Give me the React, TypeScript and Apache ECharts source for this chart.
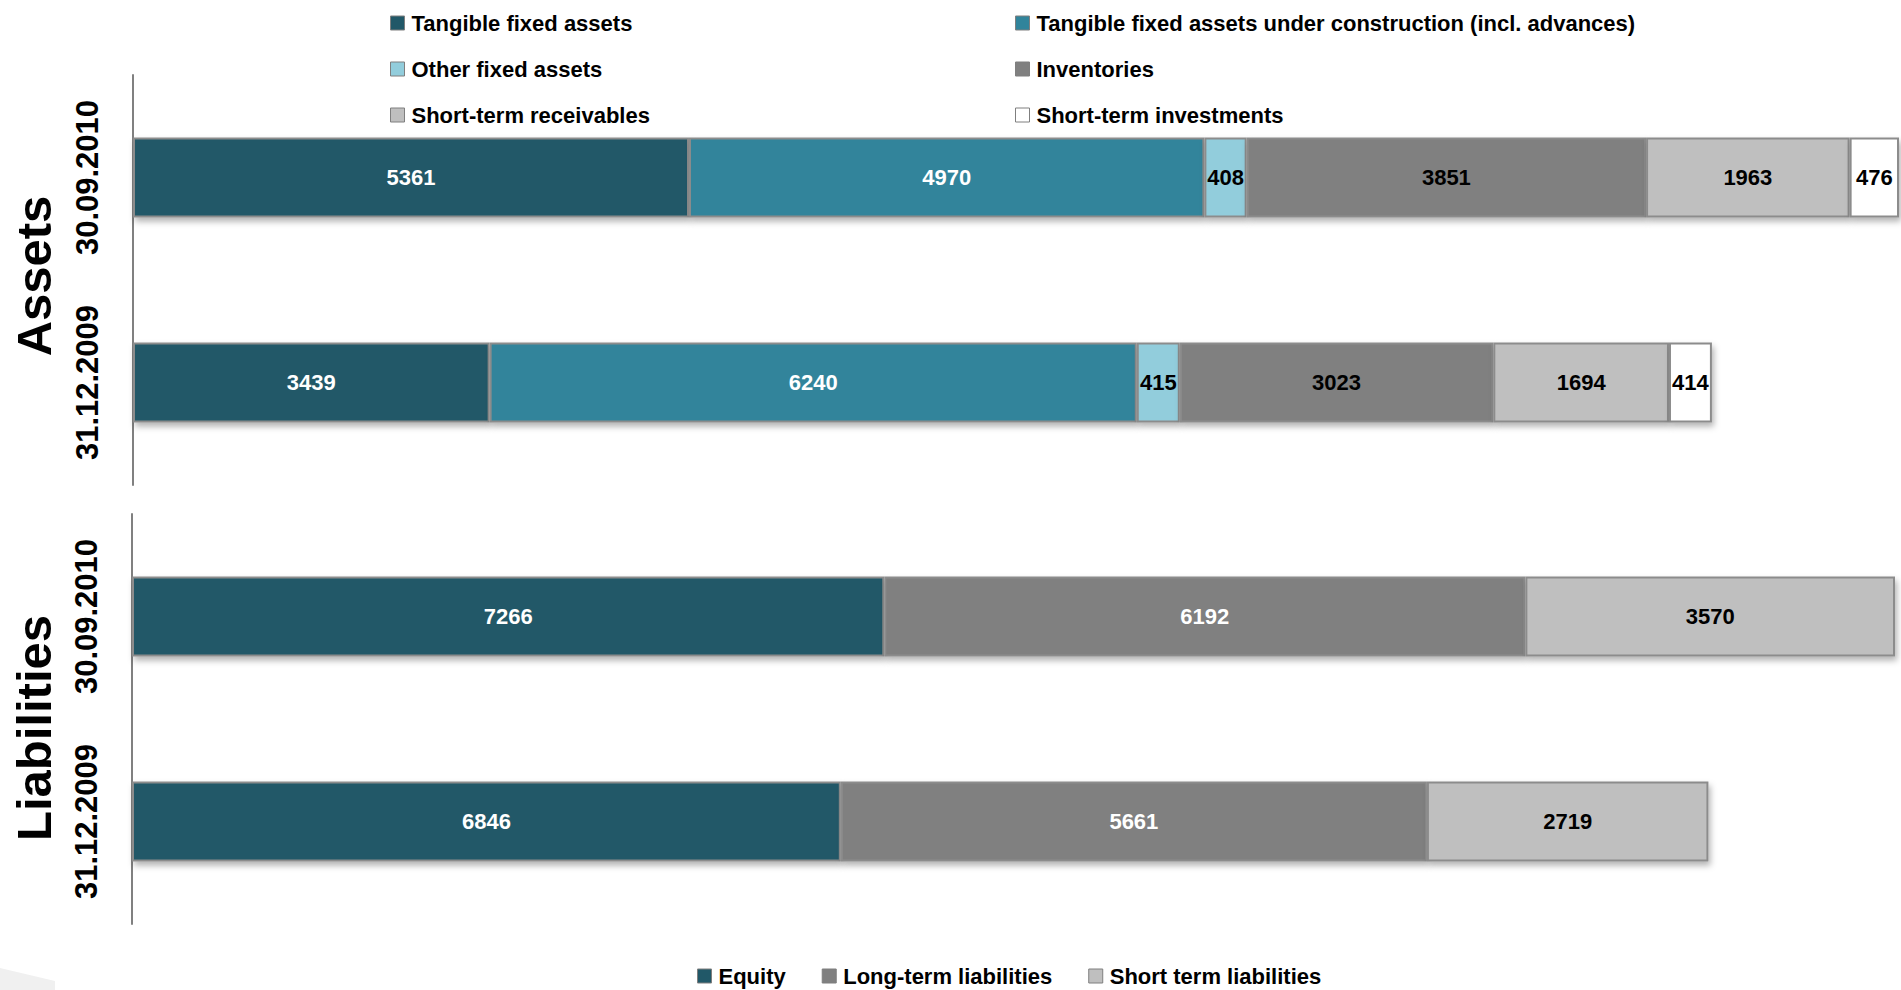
import React, { useEffect, useRef } from "react";
import * as echarts from "echarts";

const categories = ["31.12.2009", "30.09.2010"];
const assetNames = [
  "Tangible fixed assets",
  "Tangible fixed assets under construction (incl. advances)",
  "Other fixed assets",
  "Inventories",
  "Short-term receivables",
  "Short-term investments",
];
const tangibleFixed = [3439, 5361];
const underConstruction = [6240, 4970];
const otherFixed = [415, 408];
const inventories = [3023, 3851];
const receivables = [1694, 1963];
const investments = [414, 476];

const liabilityNames = ["Equity", "Long-term liabilities", "Short term liabilities"];
const equity = [6846, 7266];
const longTerm = [5661, 6192];
const shortTerm = [2719, 3570];

const assetColors = ["#215868", "#31849b", "#92cddc", "#808080", "#bfbfbf", "#ffffff"];
const assetLabelColors = ["#ffffff", "#ffffff", "#000000", "#000000", "#000000", "#000000"];
const liabilityColors = ["#215868", "#808080", "#bfbfbf"];
const liabilityLabelColors = ["#ffffff", "#ffffff", "#000000"];

const FONT = "'Liberation Sans', Arial, sans-serif";

export default function App() {
  const ref = useRef<HTMLDivElement>(null);
  useEffect(() => {
    if (!ref.current) return;
    const chart = echarts.init(ref.current, null, { renderer: "svg" });
    const assetData = [tangibleFixed, underConstruction, otherFixed, inventories, receivables, investments];
    const liabData = [equity, longTerm, shortTerm];
    const barCommon = (color: string, labelColor: string) => ({
      type: "bar",
      barWidth: 80,
      itemStyle: {
        color,
        borderColor: "#8c8c8c",
        borderWidth: 2,
        shadowBlur: 6,
        shadowOffsetX: 2,
        shadowOffsetY: 4,
        shadowColor: "rgba(0,0,0,0.3)",
      },
      label: {
        show: true,
        position: "inside",
        color: labelColor,
        fontFamily: FONT,
        fontWeight: "bold",
        fontSize: 22,
      },
    });
    const series: any[] = [];
    assetNames.forEach((name, i) => {
      series.push({
        ...barCommon(assetColors[i], assetLabelColors[i]),
        name,
        stack: "assets",
        xAxisIndex: 0,
        yAxisIndex: 0,
        data: assetData[i],
      });
    });
    liabilityNames.forEach((name, i) => {
      series.push({
        ...barCommon(liabilityColors[i], liabilityLabelColors[i]),
        name,
        stack: "liab",
        xAxisIndex: 1,
        yAxisIndex: 1,
        data: liabData[i],
      });
    });
    const legendCommon = {
      icon: "rect",
      itemWidth: 14,
      itemHeight: 14,
      itemStyle: { borderColor: "#7f7f7f", borderWidth: 1, shadowBlur: 0, shadowOffsetX: 0, shadowOffsetY: 0 },
      textStyle: { fontFamily: FONT, fontWeight: "bold", fontSize: 22, color: "#000", padding: [0, 0, 0, 2] },
      padding: 0,
      selectedMode: false,
    };
    const yAxisCommon = {
      type: "category",
      data: categories,
      axisLine: { lineStyle: { color: "#808080", width: 2 } },
      axisTick: { show: false },
      axisLabel: {
        rotate: 90,
        margin: 30,
        color: "#000",
        fontFamily: FONT,
        fontWeight: "bold",
        fontSize: 31,
      },
    };
    chart.setOption({
      animation: false,
      backgroundColor: "#ffffff",
      grid: [
        { left: 133, top: 75, width: 1766, height: 410 },
        { left: 132, top: 514, width: 1763, height: 410 },
      ],
      xAxis: [
        { type: "value", gridIndex: 0, min: 0, max: 17029, show: false },
        { type: "value", gridIndex: 1, min: 0, max: 17028, show: false },
      ],
      yAxis: [
        { ...yAxisCommon, gridIndex: 0 },
        { ...yAxisCommon, gridIndex: 1 },
      ],
      legend: [
        {
          ...legendCommon,
          orient: "vertical",
          left: 390,
          top: 12,
          itemGap: 24,
          data: [assetNames[0], assetNames[2], assetNames[4]],
        },
        {
          ...legendCommon,
          orient: "vertical",
          left: 1015,
          top: 12,
          itemGap: 24,
          data: [assetNames[1], assetNames[3], assetNames[5]],
        },
        {
          ...legendCommon,
          orient: "horizontal",
          left: 697,
          top: 965,
          itemGap: 36,
          data: liabilityNames,
        },
      ],
      graphic: [
        {
          type: "text",
          x: 34,
          y: 276,
          rotation: Math.PI / 2,
          style: {
            text: "Assets",
            fontFamily: FONT,
            fontWeight: "bold",
            fontSize: 49,
            fill: "#000",
            textAlign: "center",
            textVerticalAlign: "middle",
          },
        },
        {
          type: "text",
          x: 34,
          y: 728,
          rotation: Math.PI / 2,
          style: {
            text: "Liabilities",
            fontFamily: FONT,
            fontWeight: "bold",
            fontSize: 49,
            fill: "#000",
            textAlign: "center",
            textVerticalAlign: "middle",
          },
        },
        {
          type: "polygon",
          shape: { points: [[0, 968], [55, 981], [55, 990], [0, 990]] },
          style: { fill: "#f0f0f0" },
          silent: true,
        },
      ],
      series,
    });
    return () => chart.dispose();
  }, []);
  return (
    <div
      ref={ref}
      style={{ position: "fixed", left: 0, top: 0, width: 1901, height: 990, background: "#fff" }}
    />
  );
}
